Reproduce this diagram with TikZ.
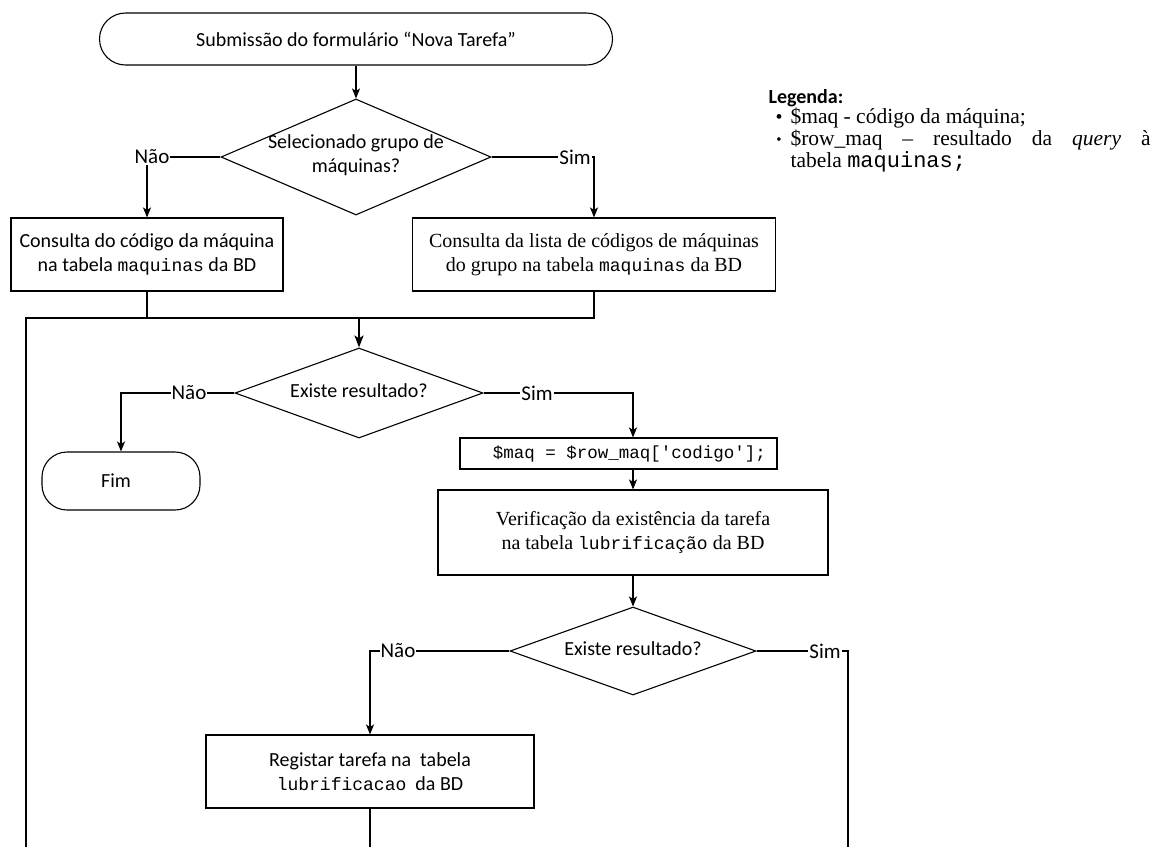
\documentclass[tikz,border=0pt]{standalone}
\usepackage{fontspec}
\setmainfont{Liberation Serif}
\newfontfamily\calib{Carlito}
\newfontfamily\cour{Liberation Mono}
\usetikzlibrary{arrows.meta,shapes.geometric}
\begin{document}
\begin{tikzpicture}[x=1pt,y=-1pt,line width=1.1pt,
  >={Stealth[length=10pt,width=8pt,inset=2.5pt]},
  sansf/.style={font=\calib\fontsize{20}{24.5}\selectfont},
  seriff/.style={font=\fontsize{20}{24}\selectfont},
  boxs/.style={draw,align=center,inner sep=0pt},
  term/.style={boxs,rounded corners=26pt,sansf},
  dia/.style={draw,diamond,inner sep=0pt},
  lbl/.style={fill=white,inner sep=1pt,font=\calib\fontsize{21}{24}\selectfont},
  legtext/.style={anchor=west,inner sep=0pt,font=\fontsize{21.5}{24}\selectfont},
  arr/.style={->},
  bigarr/.style={-{Stealth[length=12pt,width=9pt,inset=3pt]},line width=2pt}]
\useasboundingbox (0,0) rectangle (1158,847);
\fill[white] (0,0) rectangle (1158,847);

% nodes
\node[term,minimum width=513,minimum height=52] (start) at (356,39) {Submissão do formulário “Nova Tarefa”};
\node[dia,minimum width=270,minimum height=116] (d1) at (356,157) {};
\node[sansf,align=center] (t1) at (356,155) {Selecionado grupo de\\máquinas?};
\node[boxs,sansf,minimum width=272,minimum height=73] (b1) at (147,254.5) {Consulta do código da máquina\\na tabela {\cour\fontsize{18}{20}\selectfont maquinas} da BD};
\node[boxs,seriff,minimum width=363,minimum height=73] (b2) at (594,254.5) {Consulta da lista de códigos de máquinas\\do grupo na tabela {\cour\fontsize{18}{20}\selectfont maquinas} da BD};
\coordinate (jl) at (26,318);
\coordinate (jm) at (359,318);
\coordinate (el) at (26,847);
\node[dia,minimum width=248,minimum height=90] (d2) at (359,393) {};
\node[sansf] (t2) at (359,391) {Existe resultado?};
\node[term,minimum width=158,minimum height=58,rounded corners=25pt] (fim) at (121,481) {\hspace*{-10pt}Fim};
\node[boxs,minimum width=317,minimum height=31,font=\cour\fontsize{17.5}{20}\selectfont] (code) at (618.5,453.5) {\hspace*{22pt}\$maq = \$row\_maq['codigo'];};
\node[boxs,seriff,minimum width=390,minimum height=85] (b3) at (633,532.5) {Verificação da existência da tarefa\\na tabela {\cour\fontsize{18}{20}\selectfont lubrificação} da BD};
\node[dia,minimum width=246,minimum height=88] (d3) at (633,651) {};
\node[sansf] (t3) at (633,649) {Existe resultado?};
\node[boxs,sansf,minimum width=328,minimum height=73] (reg) at (370,771.5) {Registar tarefa na\ \ tabela\\{\cour\fontsize{18}{20}\selectfont lubrificacao}\ \ da BD};
\coordinate (er) at (848,847);
\coordinate (eb) at (370,847);

% connectors
\draw[arr] (start) -- (d1);
\draw[arr] (d1.west) -| (b1.north);
\draw[arr] (d1.east) -| (b2.north);
\draw (b1.south) -- (b1.south |- jl);
\draw (b2.south) |- (jl) -- (el);
\draw[bigarr] (jm) -- (d2.north);
\draw[arr] (d2.west) -| (fim.north);
\draw[arr] (d2.east) -| ([xshift=14.5pt]code.north);
\draw[arr] ([xshift=14.5pt]code.south) -- (b3.north);
\draw[arr] (b3.south) -- (d3.north);
\draw[arr] (d3.west) -| (reg.north);
\draw (d3.east) -| (er);
\draw (reg.south) -- (eb);

% edge labels
\node[lbl] (l1) at (152,157) {Não};
\node[lbl] (l2) at (575,157) {Sim};
\node[lbl] (l3) at (189,393) {Não};
\node[lbl] (l4) at (537,393) {Sim};
\node[lbl] (l5) at (398,651) {Não};
\node[lbl] (l6) at (825,651) {Sim};

% legend
\node[anchor=west,inner sep=0pt,font=\calib\bfseries\fontsize{20}{24}\selectfont] (leg) at (768,98) {Legenda:};
\node[inner sep=0pt,font=\fontsize{20}{20}\selectfont] (bu1) at (779,119) {•};
\node[inner sep=0pt,font=\fontsize{15}{20}\selectfont] (bu2) at (779,141) {•};
\node[legtext] (it1) at (790,118) {\$maq - código da máquina;};
\node[legtext] (it2) at (790,140) {\makebox[360pt][s]{\$row\_maq – resultado da \textit{query} à}};
\node[legtext] (it3) at (790,162) {tabela {\cour\fontsize{22}{24}\selectfont maquinas;}};
\end{tikzpicture}
\end{document}
